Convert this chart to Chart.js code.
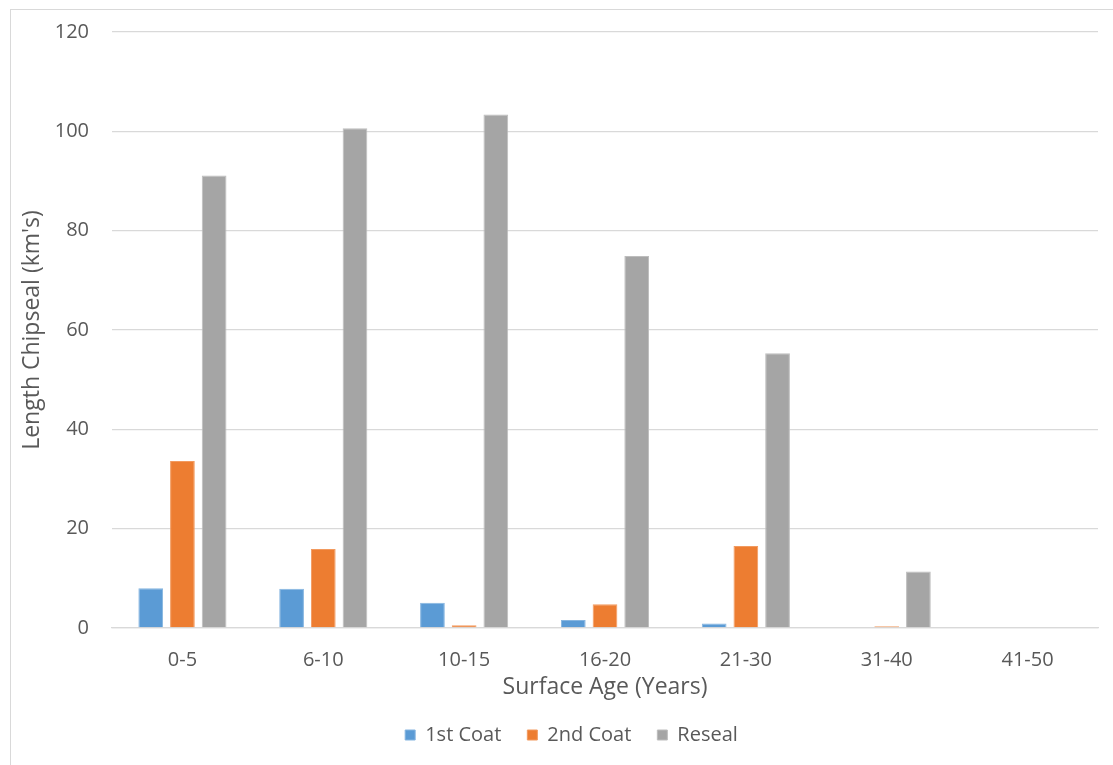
<!DOCTYPE html>
<html>
<head>
<meta charset="utf-8">
<script src="https://cdn.jsdelivr.net/npm/chart.js@4.4.1/dist/chart.umd.min.js"></script>
<style>
  html, body { margin: 0; padding: 0; background: #ffffff; overflow: hidden; }
  #frame {
    position: absolute; left: 10px; top: 9px;
    width: 1122px; height: 780px;
    border: 1px solid #d9d9d9;
  }
  #chart { display: block; }
</style>
</head>
<body>
<div id="frame"><canvas id="chart" width="1122" height="760"></canvas></div>
<script>
// Surface age bands (years)
const categories = ['0-5', '6-10', '10-15', '16-20', '21-30', '31-40', '41-50'];

// Length of chipseal (km) by treatment type
const firstCoat  = [8.0, 7.9, 5.1, 1.6, 0.9, 0, 0];
const secondCoat = [33.6, 15.9, 0.55, 4.8, 16.5, 0.35, 0];
const reseal     = [91.1, 100.6, 103.4, 74.9, 55.3, 11.4, 0.15];

const yTicks = [0, 20, 40, 60, 80, 100, 120];

const textColor = '#595959';
const gridColor = '#d9d9d9';
const fontFamily = '"Open Sans", "DejaVu Sans", sans-serif';

function barSet(label, data, fill, edge) {
  return {
    label: label,
    data: data,
    backgroundColor: fill,
    borderColor: edge,
    borderWidth: 1,
    categoryPercentage: 0.675,
    barPercentage: 0.78
  };
}

// Nudge the legend row slightly to the right of the canvas centre
const legendShift = {
  id: 'legendShift',
  afterLayout: function (chart) {
    if (chart.legend) {
      chart.legend.left += 17;
      chart.legend.right += 17;
    }
  }
};

new Chart(document.getElementById('chart'), {
  type: 'bar',
  data: {
    labels: categories,
    datasets: [
      barSet('1st Coat', firstCoat, '#5b9bd5', '#86b5e0'),
      barSet('2nd Coat', secondCoat, '#ed7d31', '#f29a5f'),
      barSet('Reseal', reseal, '#a5a5a5', '#bdbdbd')
    ]
  },
  plugins: [legendShift],
  options: {
    responsive: false,
    animation: false,
    layout: { padding: { left: 0, right: 35, top: 22, bottom: 15 } },
    plugins: {
      tooltip: { enabled: false },
      legend: {
        position: 'bottom',
        labels: {
          boxWidth: 10,
          boxHeight: 10,
          padding: 26,
          color: textColor,
          font: { family: fontFamily, size: 20 }
        }
      }
    },
    scales: {
      x: {
        grid: { display: false, drawTicks: false },
        border: { display: true, color: gridColor, width: 1.3 },
        ticks: { color: textColor, padding: 20, font: { family: fontFamily, size: 20 } },
        title: {
          display: true,
          text: 'Surface Age (Years)',
          color: textColor,
          font: { family: fontFamily, size: 23, lineHeight: 1 },
          padding: { top: 0, bottom: 0 }
        },
        afterFit: function (axis) {
          axis.height = 71;
          axis.paddingLeft = 0;
          axis.paddingRight = 0;
        }
      },
      y: {
        min: 0,
        max: 120,
        afterBuildTicks: function (axis) {
          axis.ticks = yTicks.map(function (v) { return { value: v }; });
        },
        grid: { color: gridColor, lineWidth: 1.3, drawTicks: false },
        border: { display: false },
        ticks: { color: textColor, padding: 23, font: { family: fontFamily, size: 20 } },
        title: {
          display: true,
          text: "Length Chipseal (km's)",
          color: textColor,
          font: { family: fontFamily, size: 23, lineHeight: 1 },
          padding: { top: 10, bottom: 0 }
        },
        afterFit: function (axis) {
          axis.width = 101;
          axis.paddingTop = 0;
          axis.paddingBottom = 0;
        }
      }
    }
  }
});
</script>
</body>
</html>
